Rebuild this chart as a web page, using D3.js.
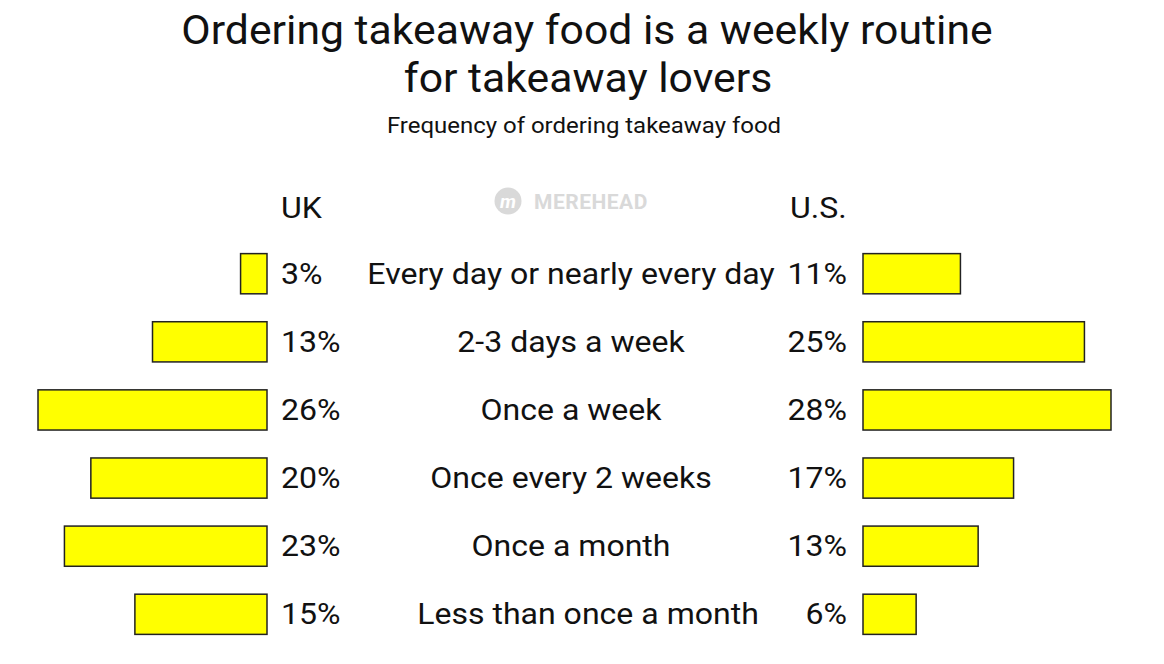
<!DOCTYPE html>
<html>
<head>
<meta charset="utf-8">
<script src="https://cdn.jsdelivr.net/npm/d3@7"></script>
<style>
  html, body { margin: 0; padding: 0; background: #fff; }
  svg { display: block; font-family: Roboto, "Noto Sans", sans-serif; }
</style>
</head>
<body>
<svg id="chart" width="1164" height="664"></svg>
<script>
const categories = ["Every day or nearly every day", "2-3 days a week", "Once a week", "Once every 2 weeks", "Once a month", "Less than once a month"];
const ukValues = [3, 13, 26, 20, 23, 15];
const usValues = [11, 25, 28, 17, 13, 6];
const seriesNames = ["UK", "U.S."];
const title = ["Ordering takeaway food is a weekly routine", "for takeaway lovers"];
const subtitle = "Frequency of ordering takeaway food";

const svg = d3.select("#chart");
const SX = 1.105;

function txt(sel, x, y, size, sx, anchor) {
  return sel.append("text")
    .attr("transform", `translate(${x},${y}) scale(${sx},1)`)
    .attr("text-anchor", anchor || "start")
    .attr("font-size", size).attr("fill", "#111");
}

// Title
txt(svg, 587, 44, 40, 1.068, "middle").text(title[0]);
txt(svg, 588, 92, 40, 1.068, "middle").text(title[1]);
txt(svg, 584, 133, 22.5, 1.065, "middle").text(subtitle);

// Watermark
const wm = svg.append("g");
wm.append("circle").attr("cx", 508).attr("cy", 201).attr("r", 13.5).attr("fill", "#d9d9d9");
wm.append("text").attr("x", 508).attr("y", 208).attr("text-anchor", "middle")
  .attr("font-size", 19).attr("font-weight", "bold").attr("font-style", "italic").attr("fill", "#fff").text("m");
wm.append("text").attr("x", 534).attr("y", 209).attr("font-size", 21).attr("font-weight", "bold")
  .attr("fill", "#d9d9d9").attr("letter-spacing", 0.5).text("MEREHEAD");

// Scales
const y = d3.scaleBand().domain(categories).range([240, 648]).paddingInner(0.41).paddingOuter(0.2);
const xUK = d3.scaleLinear().domain([0, 26]).range([267, 38]);
const xUS = d3.scaleLinear().domain([0, 28]).range([863, 1111]);

// Series headers
txt(svg, 281, 218, 29, SX).text(seriesNames[0]);
txt(svg, 790, 218, 29, SX).text(seriesNames[1]);

const rows = svg.selectAll("g.row").data(categories).join("g").attr("class", "row");

rows.append("rect")
  .attr("x", (d, i) => xUK(ukValues[i]))
  .attr("y", d => y(d))
  .attr("width", (d, i) => xUK(0) - xUK(ukValues[i]))
  .attr("height", y.bandwidth())
  .attr("fill", "#ffff00").attr("stroke", "#222").attr("stroke-width", 1.5);

rows.append("rect")
  .attr("x", xUS(0))
  .attr("y", d => y(d))
  .attr("width", (d, i) => xUS(usValues[i]) - xUS(0))
  .attr("height", y.bandwidth())
  .attr("fill", "#ffff00").attr("stroke", "#222").attr("stroke-width", 1.5);

rows.each(function (d, i) {
  const g = d3.select(this);
  const cy = y(d) + y.bandwidth() / 2 + 10;
  const cx = i === categories.length - 1 ? 588 : 571;
  txt(g, 281, cy, 29, SX).text(ukValues[i] + "%");
  txt(g, 847, cy, 29, SX, "end").text(usValues[i] + "%");
  txt(g, cx, cy, 29, SX, "middle").text(d);
});
</script>
</body>
</html>
